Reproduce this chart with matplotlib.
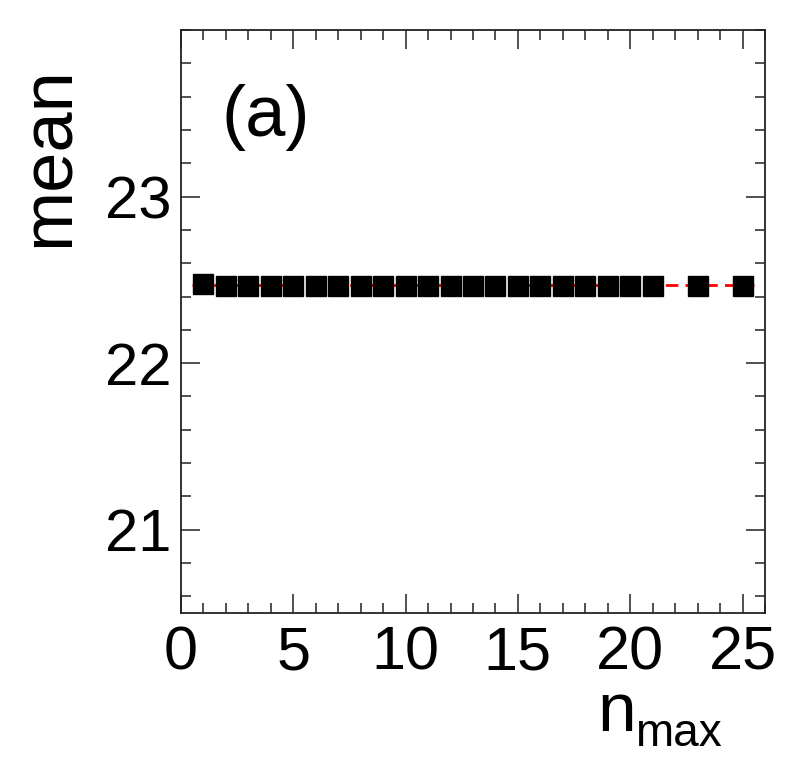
import matplotlib
matplotlib.use("Agg")
import matplotlib.pyplot as plt
from matplotlib.ticker import MultipleLocator

plt.rcParams['font.family'] = ['Liberation Sans', 'DejaVu Sans']

# data
n_max = [1, 2, 3, 4, 5, 6, 7, 8, 9, 10, 11, 12, 13, 14, 15, 16, 17, 18, 19, 20, 21, 23, 25]
mean_vals = [22.474] + [22.463] * 20 + [22.463, 22.463]
fit_x = [0.5, 25.5]
fit_y = [22.47, 22.47]

fig = plt.figure(figsize=(7.88, 7.70), dpi=100)
ax = fig.add_axes([181/788, 1 - 613/770, (765-181)/788, (613-30)/770])

ax.plot(fit_x, fit_y, color='red', lw=2.0, linestyle=(0, (4.5, 2.6)), zorder=1)
ax.plot(n_max, mean_vals, linestyle='none', marker='s', markersize=14.5,
        color='black', markeredgecolor='black', zorder=2)

ax.set_xlim(0, 26)
ax.set_ylim(20.5, 24)
ax.xaxis.set_major_locator(MultipleLocator(5))
ax.xaxis.set_minor_locator(MultipleLocator(1))
ax.yaxis.set_major_locator(MultipleLocator(1))
ax.yaxis.set_minor_locator(MultipleLocator(0.2))
ax.tick_params(which='both', direction='in', top=True, right=True, width=1.1, color='#222222')
ax.tick_params(which='major', length=14)
ax.tick_params(which='minor', length=7)
ax.tick_params(axis='x', which='major', labelsize=44, pad=9)
ax.tick_params(axis='y', which='major', labelsize=43, pad=7)
for s in ax.spines.values():
    s.set_linewidth(1.3)
    s.set_color('#222222')

ax.set_yticks([21, 22, 23])
ax.set_yticklabels(['21', '22', '23'])

# axis titles
fig.text(50/788, 1 - 66/770, 'mean', rotation=90, ha='center', va='top', fontsize=52)
fig.text(597/788, 1 - 731/770, 'n', ha='left', va='baseline', fontsize=50)
fig.text(635/788, 1 - 746/770, 'max', ha='left', va='baseline', fontsize=33)

ax.text(222/788, 1 - 136/770, '(a)', transform=fig.transFigure, ha='left', va='baseline', fontsize=52)

fig.savefig('out.png', dpi=100, facecolor='white')
